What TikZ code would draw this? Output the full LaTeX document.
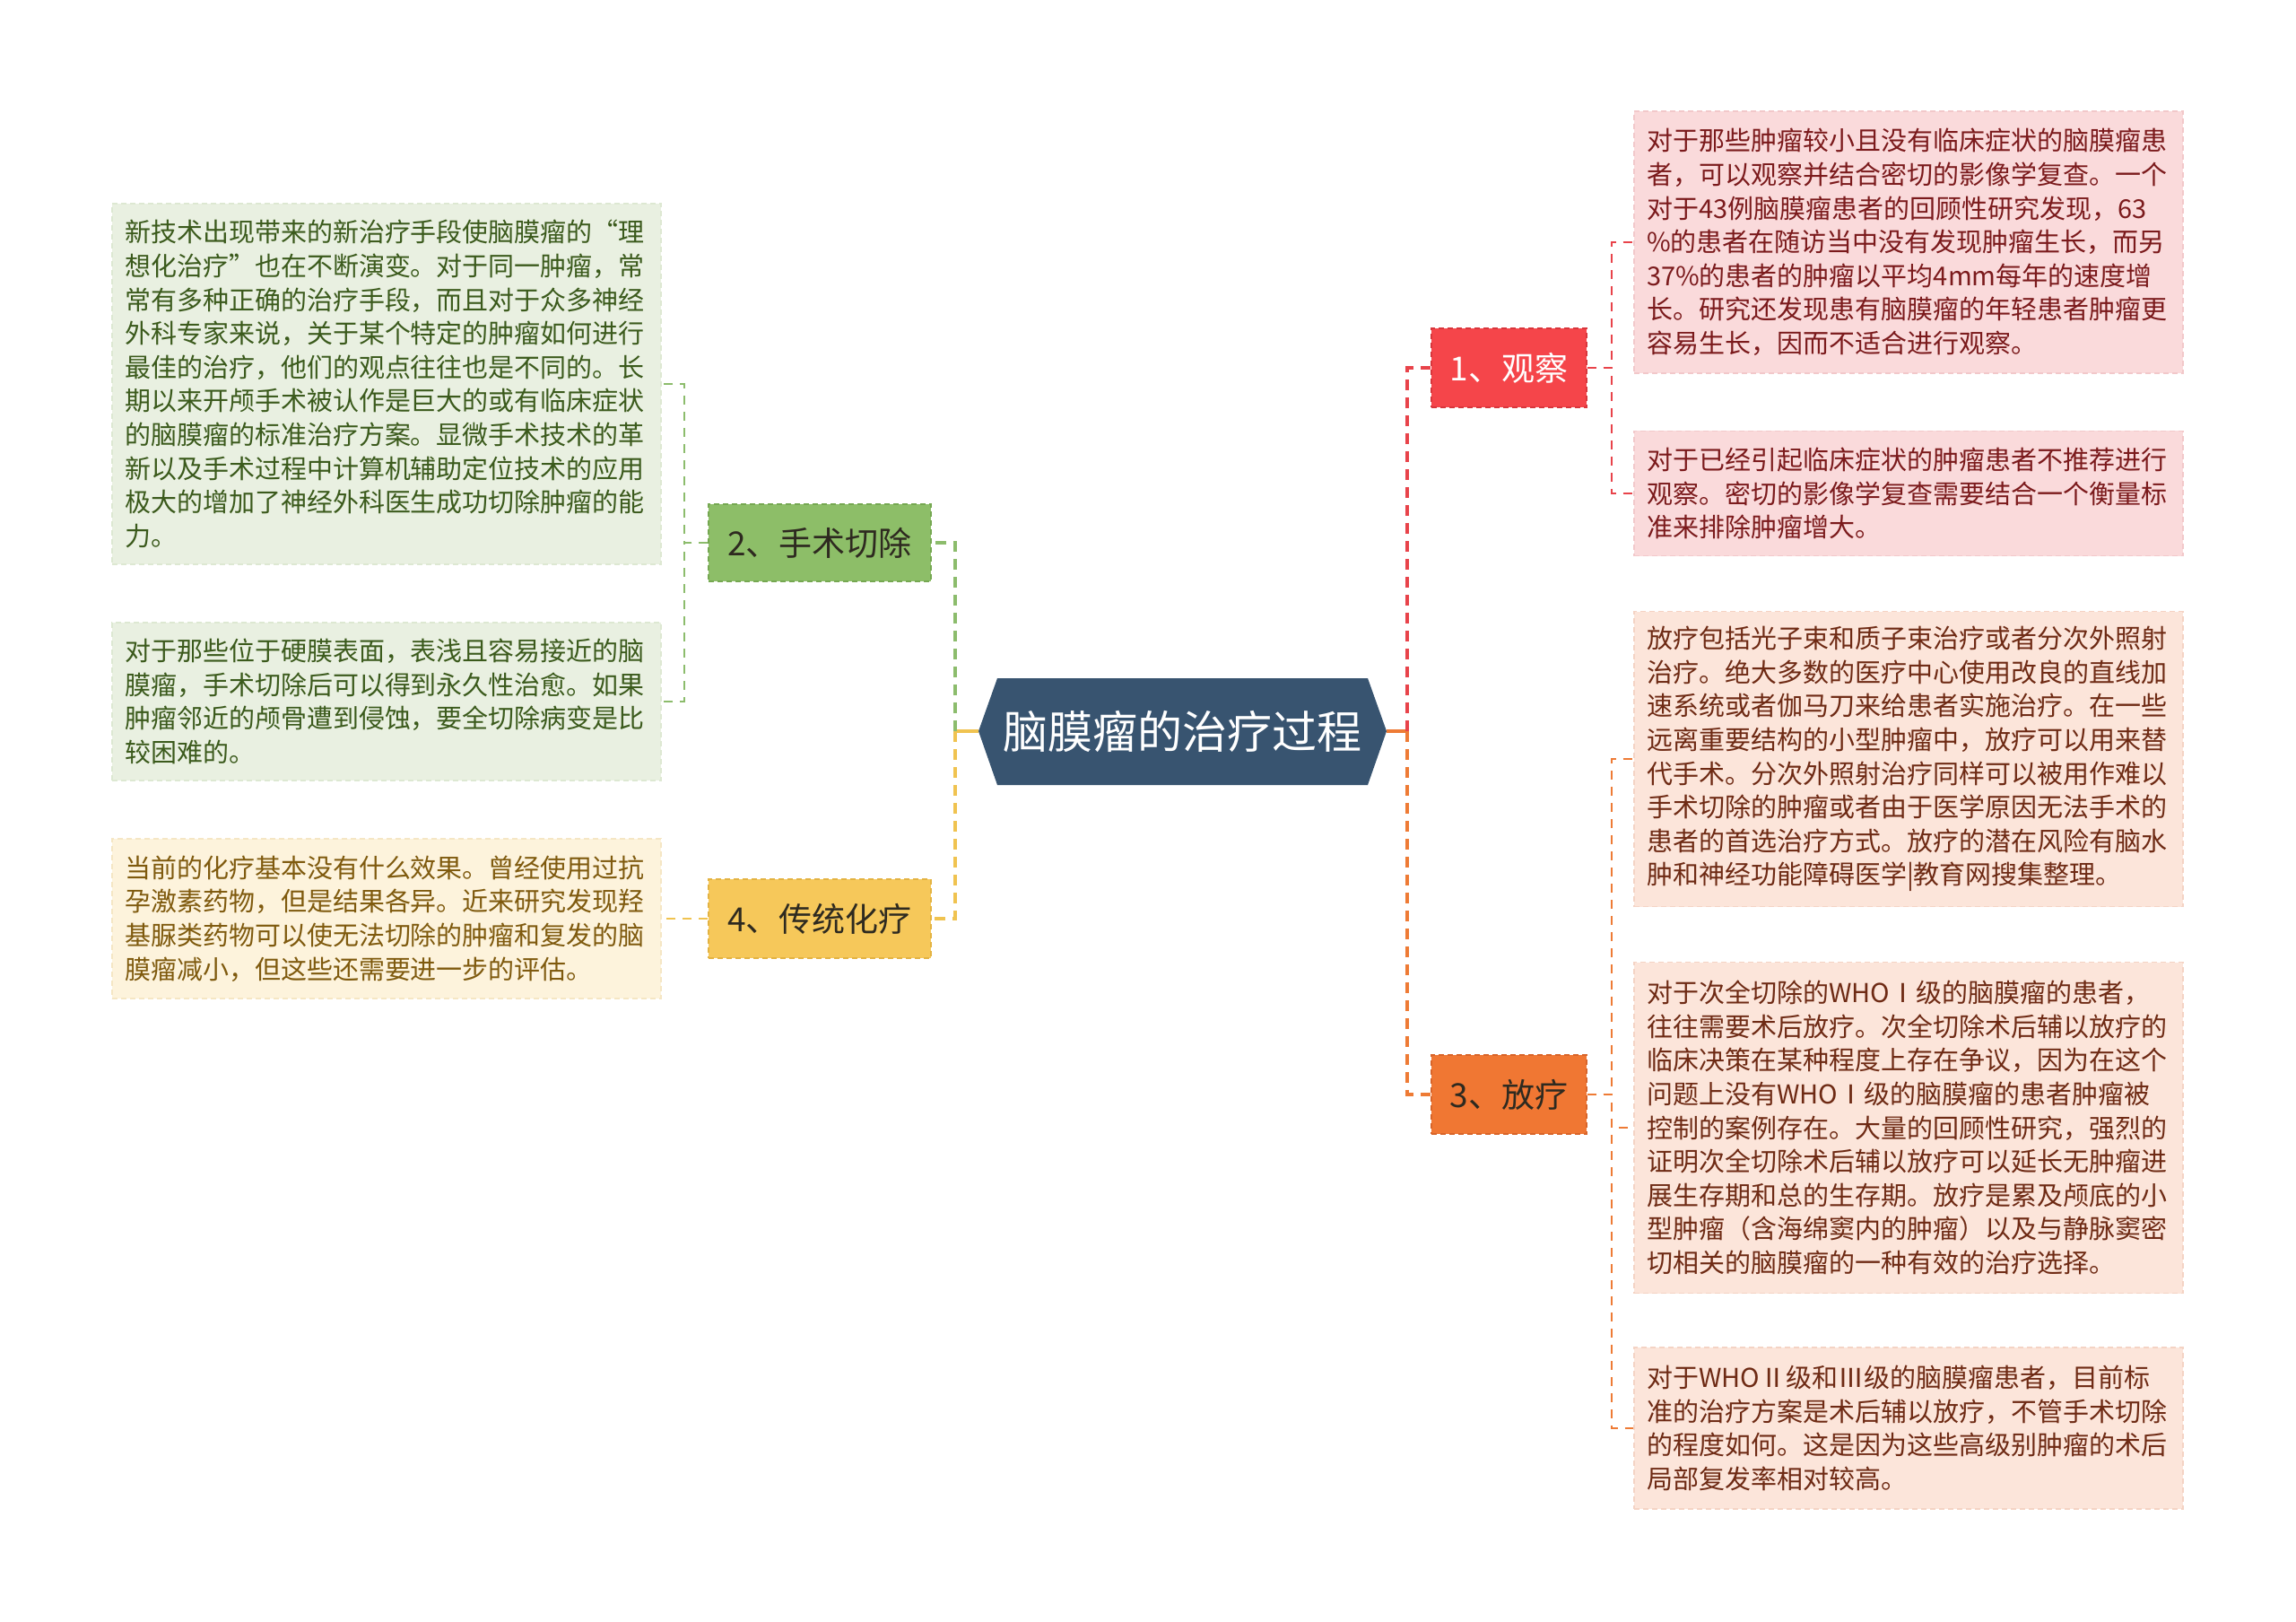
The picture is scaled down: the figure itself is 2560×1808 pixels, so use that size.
\documentclass[tikz,border=0pt]{standalone}
\usepackage{fontspec}
\newfontfamily\cjk{Noto Sans CJK SC}
\definecolor{hexblue}{HTML}{385470}
\definecolor{grnB}{HTML}{8DBE68}
\definecolor{grnBd}{HTML}{76A852}
\definecolor{yelB}{HTML}{F6C85A}
\definecolor{yelBd}{HTML}{E3B343}
\definecolor{redB}{HTML}{F5454A}
\definecolor{redBd}{HTML}{D8363C}
\definecolor{orgB}{HTML}{F07733}
\definecolor{orgBd}{HTML}{D8652A}
\definecolor{grnL}{HTML}{E9F0E1}
\definecolor{grnLd}{HTML}{DDE8D2}
\definecolor{yelL}{HTML}{FDF3DC}
\definecolor{yelLd}{HTML}{F5E6C4}
\definecolor{redL}{HTML}{FADADB}
\definecolor{redLd}{HTML}{F2C8CA}
\definecolor{orgL}{HTML}{FCE5DA}
\definecolor{orgLd}{HTML}{F4D3C4}
\definecolor{grnT}{HTML}{3B5A1C}
\definecolor{yelT}{HTML}{7F5A0E}
\definecolor{redT}{HTML}{7B1A1C}
\definecolor{orgT}{HTML}{6E2A14}
\definecolor{darkT}{HTML}{2E2A20}
\definecolor{grnC}{HTML}{8CBC6C}
\definecolor{yelC}{HTML}{F0C350}
\definecolor{redC}{HTML}{E8434A}
\definecolor{orgC}{HTML}{EE7B35}
\begin{document}
\begin{tikzpicture}[x=0.5pt,y=-0.5pt,
  rootfont/.style={font=\cjk\fontsize{25pt}{30pt}\selectfont},
  branch/.style={inner sep=0pt, font=\cjk\fontsize{18.5pt}{22pt}\selectfont,
    dash pattern=on 3pt off 2pt, line width=0.7pt},
  leaf/.style={text width=292pt, inner xsep=7pt, inner ysep=0pt, align=left,
    font=\cjk\fontsize{14.5pt}{18.8pt}\selectfont,
    dash pattern=on 3pt off 2pt, line width=0.6pt},
  mainline/.style={line width=1.75pt, dash pattern=on 6pt off 4pt},
  leafline/.style={line width=0.9pt, dash pattern=on 5pt off 4pt},
  stub/.style={line width=2pt}]
\useasboundingbox (0,0) rectangle (2560,1808);
\fill[white] (0,0) rectangle (2560,1808);

% root
\fill[hexblue] (1091,815) -- (1112,756) -- (1525,756) -- (1546,815) -- (1525,875) -- (1112,875) -- cycle;
\node[rootfont, text=white] (root) at (1318.5,815) {脑膜瘤的治疗过程};
\coordinate (rootL) at (1091,815);
\coordinate (rootR) at (1546,815);
\coordinate (hubL) at (1065,815);
\coordinate (hubR) at (1569,815);

% branches
\node[branch, fill=grnB, draw=grnBd, text=darkT, minimum width=124pt, minimum height=43pt] (b2) at (914,605) {2、手术切除};
\node[branch, fill=yelB, draw=yelBd, text=darkT, minimum width=124pt, minimum height=44pt] (b4) at (914,1024) {4、传统化疗};
\node[branch, fill=redB, draw=redBd, text=white, minimum width=86.5pt, minimum height=44pt] (b1) at (1682.5,410) {1、观察};
\node[branch, fill=orgB, draw=orgBd, text=darkT, minimum width=86.5pt, minimum height=44pt] (b3) at (1682.5,1220) {3、放疗};

% left leaves
\node[leaf, fill=grnL, draw=grnLd, text=grnT, minimum height=201pt] (l1) at (431,428) {新技术出现带来的新治疗手段使脑膜瘤的“理\\想化治疗”也在不断演变。对于同一肿瘤，常\\常有多种正确的治疗手段，而且对于众多神经\\外科专家来说，关于某个特定的肿瘤如何进行\\最佳的治疗，他们的观点往往也是不同的。长\\期以来开颅手术被认作是巨大的或有临床症状\\的脑膜瘤的标准治疗方案。显微手术技术的革\\新以及手术过程中计算机辅助定位技术的应用\\极大的增加了神经外科医生成功切除肿瘤的能\\力。};
\node[leaf, fill=grnL, draw=grnLd, text=grnT, minimum height=88pt] (l2) at (431,782) {对于那些位于硬膜表面，表浅且容易接近的脑\\膜瘤，手术切除后可以得到永久性治愈。如果\\肿瘤邻近的颅骨遭到侵蚀，要全切除病变是比\\较困难的。};
\node[leaf, fill=yelL, draw=yelLd, text=yelT, minimum height=89pt] (l3) at (431,1024) {当前的化疗基本没有什么效果。曾经使用过抗\\孕激素药物，但是结果各异。近来研究发现羟\\基脲类药物可以使无法切除的肿瘤和复发的脑\\膜瘤减小，但这些还需要进一步的评估。};

% right leaves
\node[leaf, fill=redL, draw=redLd, text=redT, minimum height=146pt] (r1) at (2128,270) {对于那些肿瘤较小且没有临床症状的脑膜瘤患\\者，可以观察并结合密切的影像学复查。一个\\对于43例脑膜瘤患者的回顾性研究发现，63\\\%的患者在随访当中没有发现肿瘤生长，而另\\37\%的患者的肿瘤以平均4mm每年的速度增\\长。研究还发现患有脑膜瘤的年轻患者肿瘤更\\容易生长，因而不适合进行观察。};
\node[leaf, fill=redL, draw=redLd, text=redT, minimum height=69.5pt] (r2) at (2128,550) {对于已经引起临床症状的肿瘤患者不推荐进行\\观察。密切的影像学复查需要结合一个衡量标\\准来排除肿瘤增大。};
\node[leaf, fill=orgL, draw=orgLd, text=orgT, minimum height=164.5pt] (r3) at (2128,846) {放疗包括光子束和质子束治疗或者分次外照射\\治疗。绝大多数的医疗中心使用改良的直线加\\速系统或者伽马刀来给患者实施治疗。在一些\\远离重要结构的小型肿瘤中，放疗可以用来替\\代手术。分次外照射治疗同样可以被用作难以\\手术切除的肿瘤或者由于医学原因无法手术的\\患者的首选治疗方式。放疗的潜在风险有脑水\\肿和神经功能障碍医学|教育网搜集整理。};
\node[leaf, fill=orgL, draw=orgLd, text=orgT, minimum height=184.5pt] (r4) at (2128,1257) {对于次全切除的WHOⅠ级的脑膜瘤的患者，\\往往需要术后放疗。次全切除术后辅以放疗的\\临床决策在某种程度上存在争议，因为在这个\\问题上没有WHOⅠ级的脑膜瘤的患者肿瘤被\\控制的案例存在。大量的回顾性研究，强烈的\\证明次全切除术后辅以放疗可以延长无肿瘤进\\展生存期和总的生存期。放疗是累及颅底的小\\型肿瘤（含海绵窦内的肿瘤）以及与静脉窦密\\切相关的脑膜瘤的一种有效的治疗选择。};
\node[leaf, fill=orgL, draw=orgLd, text=orgT, minimum height=90pt] (r5) at (2128,1592) {对于WHOⅡ级和Ⅲ级的脑膜瘤患者，目前标\\准的治疗方案是术后辅以放疗，不管手术切除\\的程度如何。这是因为这些高级别肿瘤的术后\\局部复发率相对较高。};

% root to branches
\draw[stub, yelC] (rootL) -- (hubL);
\draw[stub, orgC] (rootR) -- (hubR);
\draw[mainline, grnC] (hubL) |- (b2.east);
\draw[mainline, yelC] (hubL) |- (b4.east);
\draw[mainline, redC] (hubR) |- (b1.west);
\draw[mainline, orgC] (hubR) |- (b3.west);

% branches to leaves
\draw[leafline, grnC] (b2.west) -- ++(-26,0) |- (l1.east);
\draw[leafline, grnC] (b2.west) -- ++(-26,0) |- (l2.east);
\draw[leafline, yelC] (b4.west) -- (l3.east);
\draw[leafline, redC] (b1.east) -- ++(27,0) |- (r1.west);
\draw[leafline, redC] (b1.east) -- ++(27,0) |- (r2.west);
\draw[leafline, orgC] (b3.east) -- ++(27,0) |- (r3.west);
\draw[leafline, orgC] (b3.east) -- ++(27,0) |- (r4.west);
\draw[leafline, orgC] (b3.east) -- ++(27,0) |- (r5.west);
\end{tikzpicture}
\end{document}
